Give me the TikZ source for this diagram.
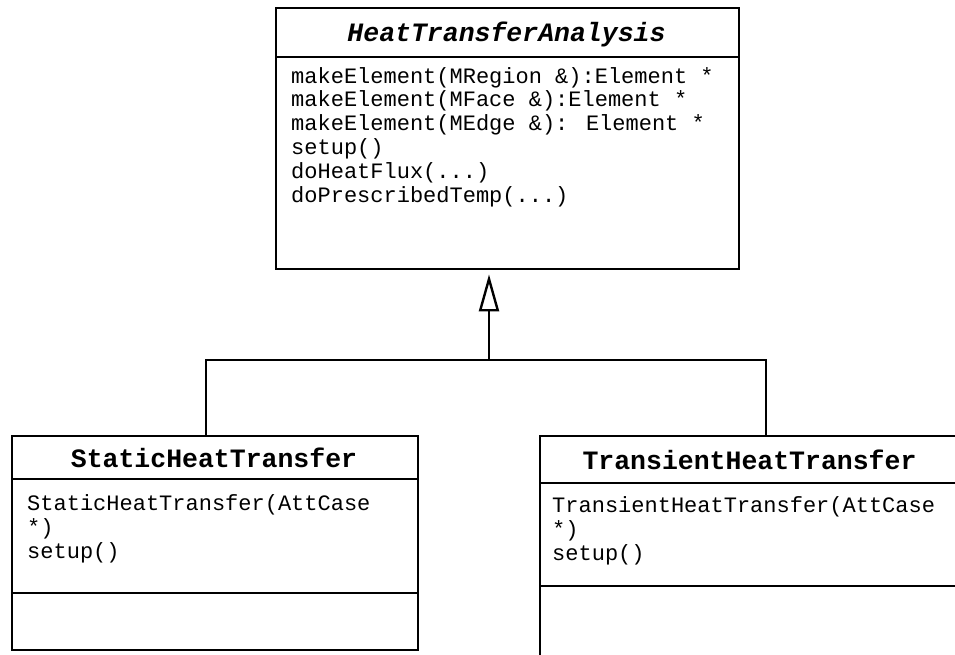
\documentclass[tikz,border=0pt]{standalone}
\usepackage{fontspec}
\setmainfont{Liberation Mono}
\usetikzlibrary{arrows.meta}
\begin{document}
\begin{tikzpicture}[x=1pt,y=-1pt,
  umlbox/.style={draw, line width=2.4pt, anchor=north west, inner sep=0pt, rectangle},
  divider/.style={line width=2.4pt},
  conn/.style={line width=2.4pt},
  titletext/.style={font=\fontsize{26.5}{28}\selectfont\bfseries, anchor=base, inner sep=0pt},
  optext/.style={font=\fontsize{22}{23.8}\selectfont, align=left, anchor=base west, inner sep=0pt},
]
\useasboundingbox (0,0) rectangle (955,654);
\clip (0,0) rectangle (955,654);

% HeatTransferAnalysis
\node[umlbox, minimum width=463pt, minimum height=261pt] (hta) at (275,7) {};
\draw[divider] (hta.north west) ++(0,50) -- ++(463,0);
\node[titletext] (htaT) at (506.5,41) {\itshape HeatTransferAnalysis};
\node[optext] (htaO) at (291,202) {makeElement(MRegion \&):Element *\\makeElement(MFace \&):Element *\\makeElement(MEdge \&): Element *\\setup()\\doHeatFlux(...)\\doPrescribedTemp(...)};

% StaticHeatTransfer
\node[umlbox, minimum width=406pt, minimum height=214pt] (sht) at (11,435) {};
\draw[divider] (sht.north west) ++(0,44) -- ++(406,0);
\draw[divider] (sht.north west) ++(0,158) -- ++(406,0);
\node[titletext] (shtT) at (214,467) {StaticHeatTransfer};
\node[optext] (shtO) at (27,558) {StaticHeatTransfer(AttCase\\*)\\setup()};

% TransientHeatTransfer
\node[umlbox, minimum width=423pt, minimum height=230pt] (tht) at (539,435) {};
\draw[divider] (tht.north west) ++(0,48) -- ++(423,0);
\draw[divider] (tht.north west) ++(0,151) -- ++(423,0);
\node[titletext] (thtT) at (749.5,469) {TransientHeatTransfer};
\node[optext] (thtO) at (552,560) {TransientHeatTransfer(AttCase\\*)\\setup()};

% generalization connectors
\coordinate (jL) at (206,360);
\coordinate (jR) at (766,360);
\coordinate (jM) at (489,360);
\draw[conn] (sht.north -| jL) -- (jL) -- (jR) -- (tht.north -| jR);
\draw[conn, shorten >=4pt, -{Triangle[open, length=37pt, width=20pt, line width=2.4pt]}] (jM) -- (hta.south -| jM);
\end{tikzpicture}
\end{document}
